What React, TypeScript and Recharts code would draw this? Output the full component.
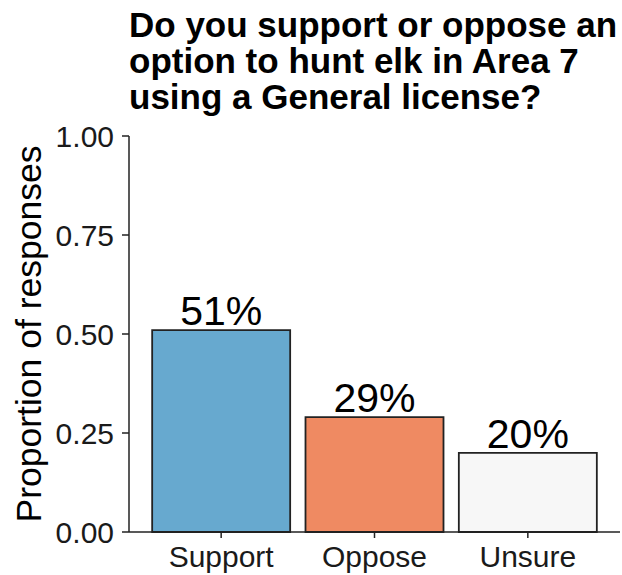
import React from 'react';
import { Bar, BarChart, Cell, Label, LabelList, XAxis, YAxis } from 'recharts';

const categories = ['Support', 'Oppose', 'Unsure'];
const proportions = [0.51, 0.29, 0.2];
const barColors = ['#67a9cf', '#ef8a62', '#f7f7f7'];
const yTicks = [0, 0.25, 0.5, 0.75, 1];
const titleLines = ['Do you support or oppose an', 'option to hunt elk in Area 7', 'using a General license?'];

const data = categories.map((name, i) => ({ name, value: proportions[i] }));

const font = '"Liberation Sans", Arial, Helvetica, sans-serif';

export default function App() {
    return (
        <div style={{ position: 'absolute', left: 0, top: 0, width: 622, height: 575, background: '#fff', fontFamily: font }}>
            <div
                style={{
                    position: 'absolute',
                    left: 129,
                    top: 7,
                    fontSize: 35,
                    fontWeight: 'bold',
                    lineHeight: '36px',
                    color: '#000',
                    whiteSpace: 'nowrap',
                }}
            >
                {titleLines.map((line) => (
                    <div key={line}>{line}</div>
                ))}
            </div>
            <BarChart
                width={622}
                height={575}
                data={data}
                margin={{ top: 136, right: 2, bottom: 0, left: 0 }}
                barCategoryGap="5%"
                style={{ fontFamily: font }}
            >
                <XAxis
                    dataKey="name"
                    height={43}
                    padding={{ left: 15.5, right: 15.5 }}
                    axisLine={{ stroke: '#222', strokeWidth: 1.5 }}
                    tickLine={{ stroke: '#222', strokeWidth: 1.5 }}
                    tickSize={6}
                    tickMargin={8}
                    tick={{ fontSize: 30, fill: '#1a1a1a' }}
                />
                <YAxis
                    width={129}
                    domain={[0, 1]}
                    ticks={yTicks}
                    tickFormatter={(v: number) => v.toFixed(2)}
                    axisLine={{ stroke: '#222', strokeWidth: 1.5 }}
                    tickLine={{ stroke: '#222', strokeWidth: 1.5 }}
                    tickSize={7}
                    tickMargin={8}
                    tick={{ fontSize: 30, fill: '#1a1a1a' }}
                >
                    <Label
                        value="Proportion of responses"
                        angle={-90}
                        position="insideLeft"
                        offset={28}
                        style={{ textAnchor: 'middle', fontSize: 35.5, fill: '#000' }}
                    />
                </YAxis>
                <Bar dataKey="value" stroke="#222" strokeWidth={1.8} isAnimationActive={false}>
                    {data.map((d, i) => (
                        <Cell key={d.name} fill={barColors[i]} />
                    ))}
                    <LabelList
                        dataKey="value"
                        position="top"
                        offset={5}
                        formatter={(v: number) => `${Math.round(v * 100)}%`}
                        style={{ fontSize: 41, fill: '#000' }}
                    />
                </Bar>
            </BarChart>
        </div>
    );
}
